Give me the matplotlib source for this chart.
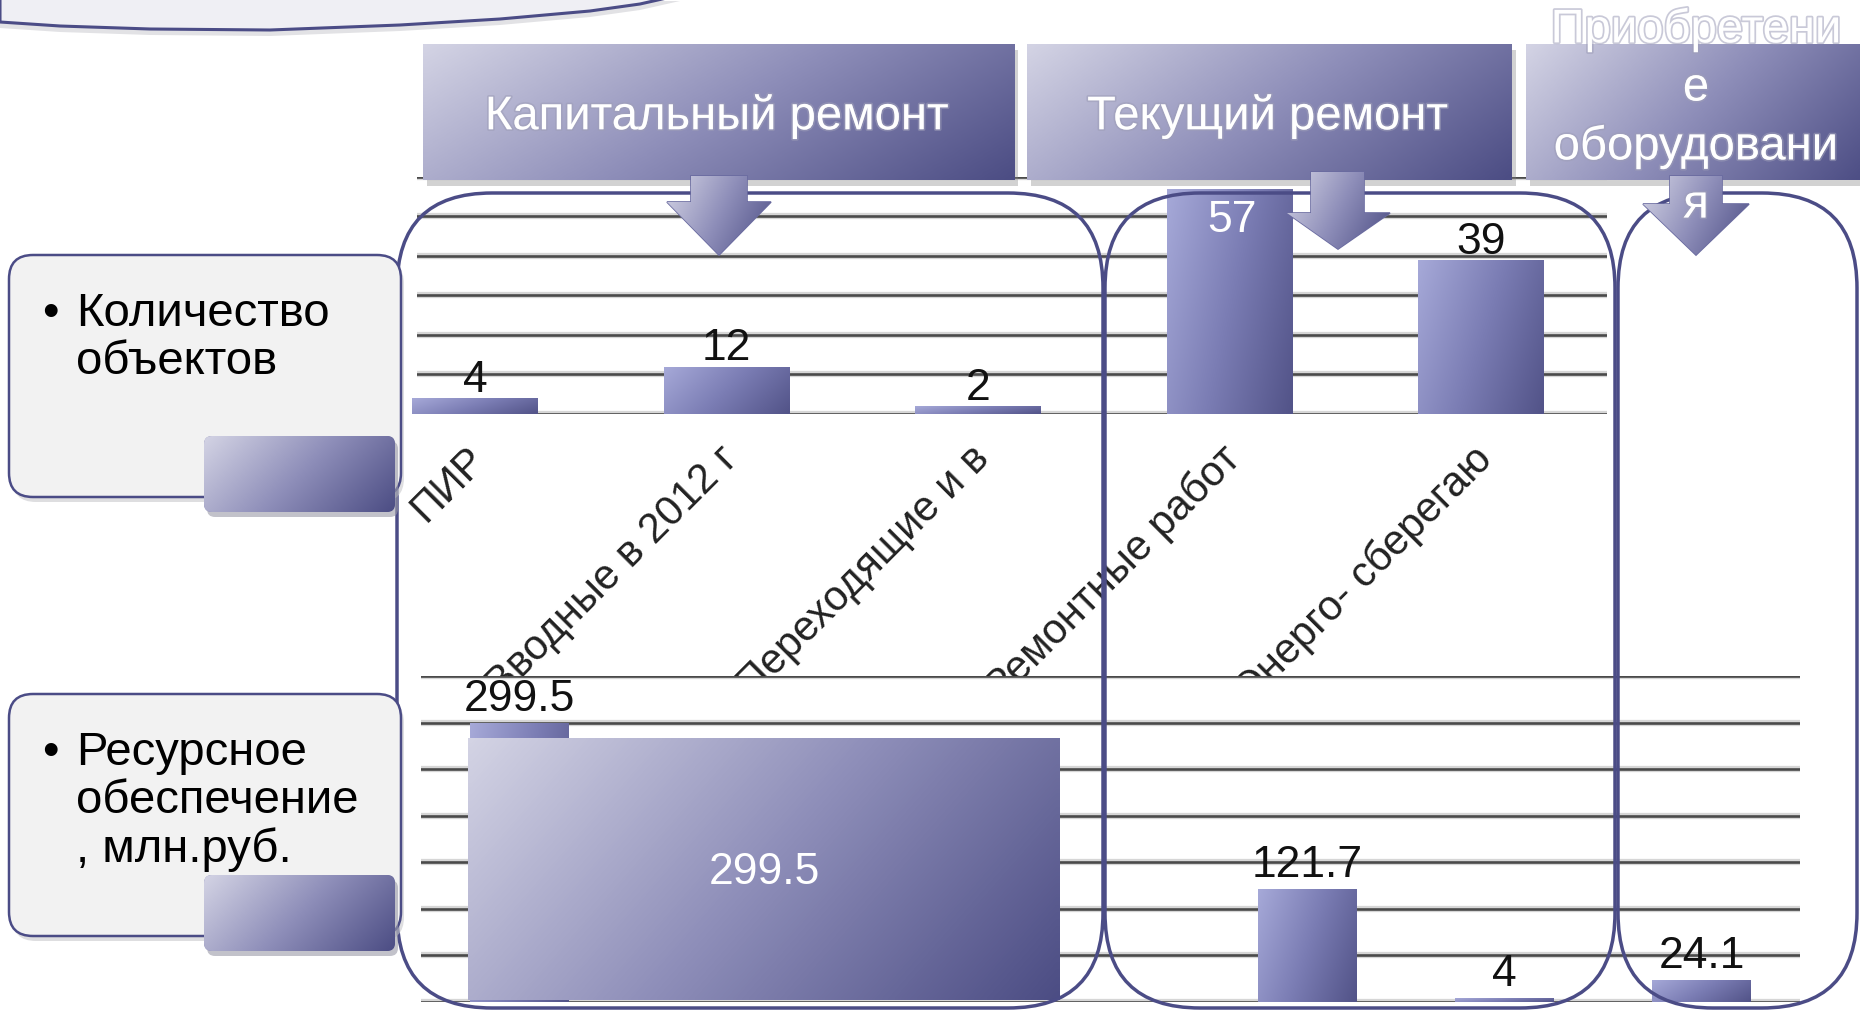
import matplotlib
matplotlib.use("Agg")
import matplotlib.pyplot as plt
import matplotlib.patheffects as pe
import numpy as np
from matplotlib import font_manager
from matplotlib.colors import LinearSegmentedColormap
from matplotlib.patches import FancyBboxPatch, Polygon, Rectangle

# --- data -------------------------------------------------------------
count_labels = ["ПИР", "Вводные в 2012 г", "Переходящие и в",
                "Ремонтные работ", "Энерго- сберегаю"]
count_values = [4, 12, 2, 57, 39]

money_values = [299.5, 0, 0, 0, 121.7, 4, 24.1]
callout_value = "299.5"

group_titles = ["Капитальный ремонт", "Текущий ремонт",
                "Приобретени\nе\nоборудовани\nя"]
row_titles = ["Количество\nобъектов", "Ресурсное\nобеспечение\n, млн.руб."]

# --- style ------------------------------------------------------------
W, H = 1860, 1011
NAVY = "#4b4c86"
plt.rcParams["font.family"] = ["Liberation Sans", "DejaVu Sans"]
names = {f.name for f in font_manager.fontManager.ttflist}
NARROW = "Liberation Sans Narrow" if "Liberation Sans Narrow" in names else "Liberation Sans"

box_cmap = LinearSegmentedColormap.from_list("box", ["#d3d3e4", "#8e8eb9", "#4c4d84"])
bar_cmap = LinearSegmentedColormap.from_list("bar", ["#a6a9d8", "#7b7db4", "#525388"])


def gradient(ax, x0, y0, x1, y1, clip, cmap, zorder, y_down=True):
    xx, yy = np.meshgrid(np.linspace(0, 1, 80), np.linspace(0, 1, 80))
    v = 0.72 * xx + 0.28 * yy
    ext = (x0, x1, y1, y0) if y_down else (x0, x1, y0, y1)
    im = ax.imshow(v, cmap=cmap, extent=ext, origin="upper", aspect="auto",
                   zorder=zorder, interpolation="bilinear")
    im.set_clip_path(clip)


def grid_lines(ax, ticks):
    for t in ticks:
        ax.axhline(t, color="#4a4a4a", lw=1.9, zorder=1,
                   path_effects=[pe.Stroke(linewidth=4.5, foreground="#d6d6d6"), pe.Normal()])


fig = plt.figure(figsize=(W / 100, H / 100), dpi=100)
fig.patch.set_facecolor("white")

# --- top chart: number of objects --------------------------------------
ax1 = fig.add_axes([417 / W, 1 - 414 / H, 1190 / W, 237 / H], zorder=1)
x1 = np.arange(len(count_values))
bars1 = ax1.bar(x1, count_values, width=0.5, color="#7c7eb5", zorder=2)
for b in bars1:
    gradient(ax1, b.get_x(), 0, b.get_x() + b.get_width(), b.get_height(),
             b, bar_cmap, 2.1, y_down=False)
grid_lines(ax1, range(0, 61, 10))
top = max(count_values)
for b, v in zip(bars1, count_values):
    cx = b.get_x() + b.get_width() / 2
    if v == top:
        ax1.annotate(str(v), (cx, v), xytext=(2, -8), textcoords="offset points",
                     ha="center", va="top", color="white", fontsize=32,
                     family=NARROW, zorder=5)
    else:
        ax1.annotate(str(v), (cx, v), xytext=(0, -2), textcoords="offset points",
                     ha="center", va="bottom", color="#111111", fontsize=32,
                     family=NARROW, zorder=5)
ax1.set_xlim(-0.23, 4.5)
ax1.set_ylim(0, 60)
ax1.set_yticks([])
ax1.set_xticks(x1 + 0.02)
ax1.set_xticklabels(count_labels, rotation=45, ha="right", va="center",
                    rotation_mode="anchor", fontsize=30, family=NARROW, color="#222222")
ax1.tick_params(axis="x", length=0, pad=28)
for s in ax1.spines.values():
    s.set_visible(False)

# --- bottom chart: money, mln rub --------------------------------------
ax2 = fig.add_axes([421 / W, 1 - 1002 / H, 1379 / W, 326 / H], zorder=2)
ax2.set_facecolor("white")
x2 = np.arange(len(money_values))
bars2 = ax2.bar(x2, money_values, width=0.5, color="#7c7eb5", zorder=2)
for b in bars2:
    if b.get_height() > 0:
        gradient(ax2, b.get_x(), 0, b.get_x() + b.get_width(), b.get_height(),
                 b, bar_cmap, 2.1, y_down=False)
grid_lines(ax2, range(0, 351, 50))
for b, v in zip(bars2, money_values):
    if v > 0:
        ax2.annotate(f"{v:g}", (b.get_x() + b.get_width() / 2, v), xytext=(0, 2),
                     textcoords="offset points", ha="center", va="bottom",
                     color="#111111", fontsize=32, family=NARROW, zorder=5)
ax2.set_xlim(-0.5, len(money_values) - 0.5)
ax2.set_ylim(0, 350)
ax2.set_xticks([])
ax2.set_yticks([])
for s in ax2.spines.values():
    s.set_visible(False)

# --- overlay: slide decorations ------------------------------------------
ov = fig.add_axes([0, 0, 1, 1], zorder=5)
ov.set_xlim(0, W)
ov.set_ylim(H, 0)
ov.axis("off")

# curved banner at the top left
banner = [(0, -5), (680, -5), (640, 4), (590, 11), (500, 19), (400, 25),
          (270, 30), (150, 29), (60, 26), (0, 22)]
ov.add_patch(Polygon([(x, y + 6) for x, y in banner], closed=True,
                     fc="#cfcfd4", ec="none", alpha=0.6, zorder=1))
ov.add_patch(Polygon(banner, closed=True, fc="#efeff4", ec=NAVY, lw=2.2, zorder=1.1))

# callout box over the first bottom categories
cb = Rectangle((468, 738), 591, 262, fc="#8080b0", ec="none", zorder=2)
ov.add_patch(cb)
gradient(ov, 468, 738, 1059, 1000, cb, box_cmap, 2.1)
ov.text(764, 872, callout_value, ha="center", va="center", color="white",
        fontsize=32, family=NARROW, zorder=2.2)

# group frames
for fx0, fx1 in [(397, 1103), (1105, 1615), (1618, 1857)]:
    ov.add_patch(FancyBboxPatch((fx0, 193), fx1 - fx0, 815,
                                boxstyle="round,pad=0,rounding_size=95",
                                fill=False, ec=NAVY, lw=2.5, zorder=3))

# row captions at the left
for (by0, gy0), title in zip([(255, 436), (694, 875)], row_titles):
    ov.add_patch(FancyBboxPatch((12, by0 + 5), 392, 242,
                                boxstyle="round,pad=0,rounding_size=24",
                                fc="#c8c8cc", ec="none", alpha=0.6, zorder=4))
    ov.add_patch(FancyBboxPatch((9, by0), 392, 242,
                                boxstyle="round,pad=0,rounding_size=24",
                                fc="#f2f2f2", ec=NAVY, lw=1.8, zorder=4.1))
    ov.add_patch(FancyBboxPatch((207, gy0 + 5), 191, 76,
                                boxstyle="round,pad=0,rounding_size=8",
                                fc="#9a9aa8", ec="none", alpha=0.6, zorder=4.2))
    gb = FancyBboxPatch((204, gy0), 191, 76, boxstyle="round,pad=0,rounding_size=8",
                        fc="#8080b0", ec="none", zorder=4.3)
    ov.add_patch(gb)
    gradient(ov, 204, gy0, 395, gy0 + 76, gb, box_cmap, 4.4)
    ov.text(42, by0 + 37, "•", ha="left", va="top", fontsize=34, zorder=4.5)
    ov.text(76, by0 + 37, title, ha="left", va="top", fontsize=34,
            linespacing=1.12, color="black", zorder=4.5)

# group headers
headers = [(423, 1014), (1027, 1512), (1526, 1866)]
shadow = [pe.withStroke(linewidth=2.5, foreground=(0.62, 0.62, 0.72, 0.55))]
for (hx0, hx1), title in zip(headers, group_titles):
    ov.add_patch(Rectangle((hx0 + 4, 50), hx1 - hx0, 136, fc="#808080",
                           ec="none", alpha=0.35, zorder=5))
    hb = Rectangle((hx0, 44), hx1 - hx0, 136, fc="#8080b0", ec="none", zorder=5.1)
    ov.add_patch(hb)
    gradient(ov, hx0, 44, hx1, 180, hb, box_cmap, 5.2)
    lines = title.split("\n")
    if len(lines) == 1:
        ov.text((hx0 + hx1) / 2 - 2, 117, title, ha="center", va="center",
                color="white", fontsize=34, zorder=7, path_effects=shadow)

# down arrows under the headers
arrows = [
    [(691, 176), (747, 176), (747, 202), (771, 202), (719, 255), (667, 202), (691, 202)],
    [(1311, 172), (1364, 172), (1364, 213), (1390, 213), (1338, 249), (1287, 213), (1311, 213)],
    [(1670, 176), (1722, 176), (1722, 204), (1749, 204), (1696, 255), (1643, 204), (1670, 204)],
]
for pts in arrows:
    ap = Polygon(pts, closed=True, fc="#8080b0", ec="#6a6ba0", lw=1.2, zorder=6)
    ov.add_patch(ap)
    xs = [p[0] for p in pts]
    ys = [p[1] for p in pts]
    gradient(ov, min(xs), min(ys), max(xs), max(ys), ap, box_cmap, 6.1)

# wrapped header of the third group, drawn over its arrow
for i, line in enumerate(group_titles[2].split("\n")):
    ov.text(1696, 30 + 58.5 * i, line, ha="center", va="center", color="white",
            fontsize=34, zorder=7, path_effects=shadow)

fig.savefig("out.png", dpi=100, facecolor="white")
